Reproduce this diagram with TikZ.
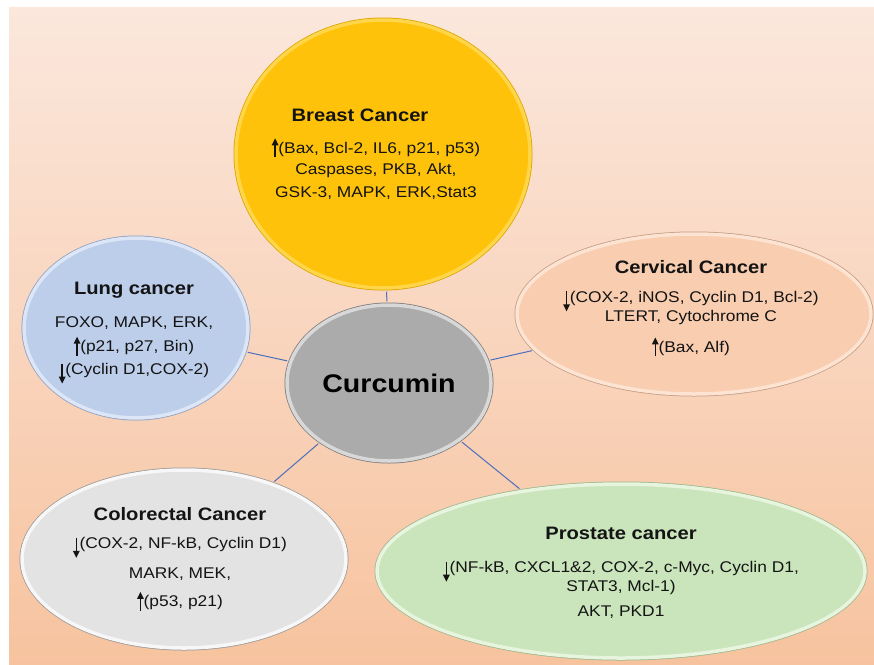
\documentclass[tikz,border=0pt]{standalone}
\usepackage{fontspec}
\setmainfont{Liberation Sans}[FakeStretch=1.12]
\usetikzlibrary{shapes.geometric,arrows.meta}

\definecolor{bgtop}{HTML}{FBE7DC}
\definecolor{bgbot}{HTML}{F7C39F}
\definecolor{linkblue}{HTML}{4A6FC0}
\definecolor{brfill}{HTML}{FFC20A}
\definecolor{brring}{HTML}{FFD54A}
\definecolor{brline}{HTML}{D9A300}
\definecolor{cvfill}{HTML}{F9CDB0}
\definecolor{cvring}{HTML}{FCE3D2}
\definecolor{cvline}{HTML}{C49D85}
\definecolor{lgfill}{HTML}{BDCEEB}
\definecolor{lgring}{HTML}{DDE6F6}
\definecolor{lgline}{HTML}{8A9EC0}
\definecolor{crfill}{HTML}{E3E3E3}
\definecolor{crring}{HTML}{F7F7F7}
\definecolor{crline}{HTML}{989898}
\definecolor{prfill}{HTML}{CAE5BC}
\definecolor{prring}{HTML}{E7F5DF}
\definecolor{prline}{HTML}{9BB78D}
\definecolor{cufill}{HTML}{ABABAB}
\definecolor{curing}{HTML}{D8D8D8}
\definecolor{culine}{HTML}{7A7A7A}

\newcommand{\ttl}{\bfseries\fontsize{18}{21}\selectfont}
\newcommand{\uparr}{\smash{\tikz[baseline=0pt]\draw[-{Triangle[length=7pt,width=6.5pt]},line width=1.4pt] (0pt,-4pt) -- (0pt,15pt);}}
\newcommand{\downarr}{\smash{\tikz[baseline=0pt]\draw[-{Triangle[length=7pt,width=6.5pt]},line width=1.4pt] (0pt,11pt) -- (0pt,-9pt);}}

\begin{document}
\begin{tikzpicture}[
    x=1pt, y=-1pt,
    bubble/.style n args={3}{ellipse, inner sep=0pt, fill=#1, draw=#2,
        line width=3.5pt, preaction={draw=#3, line width=5pt}},
    txt/.style={align=center, inner sep=0pt, text=black!92,
        font=\fontsize{15.5}{21}\selectfont},
    link/.style={draw=linkblue, line width=1pt, shorten <=2pt, shorten >=2pt}
]

% page and backdrop
\useasboundingbox (0,0) rectangle (874,664);
\fill[white] (0,0) rectangle (874,664);
\fill[top color=bgtop, bottom color=bgbot] (9,7) rectangle (874,664);

% bubbles
\node[bubble={brfill}{brring}{brline}, minimum width=294pt, minimum height=268pt] (breast) at (383,154) {};
\node[bubble={cvfill}{cvring}{cvline}, minimum width=354pt, minimum height=160pt] (cerv) at (694,314) {};
\node[bubble={lgfill}{lgring}{lgline}, minimum width=224pt, minimum height=180pt] (lung) at (136,328) {};
\node[bubble={crfill}{crring}{crline}, minimum width=324pt, minimum height=178pt] (colo) at (184,559) {};
\node[bubble={prfill}{prring}{prline}, minimum width=488pt, minimum height=174pt] (pros) at (621,571) {};
\node[bubble={cufill}{curing}{culine}, minimum width=204pt, minimum height=156pt,
      font=\bfseries\fontsize{25.5}{30}\selectfont] (cur) at (389,383) {Curcumin};

% texts
\node[txt] (breast-txt) at ([xshift=-7pt]breast.center)
    {{\ttl Breast Cancer}\hspace*{32pt}\\[11pt]
     \uparr(Bax, Bcl-2, IL6, p21, p53)\\
     Caspases, PKB, Akt,\\[2pt]
     GSK-3, MAPK, ERK,Stat3};
\node[txt] (cerv-txt) at ([xshift=-3pt,yshift=6pt]cerv.center)
    {{\ttl Cervical Cancer}\\[8pt]
     \downarr(COX-2, iNOS, Cyclin D1, Bcl-2)\\[-2pt]
     LTERT, Cytochrome C\\[10pt]
     \uparr(Bax, Alf)};
\node[txt] (lung-txt) at ([xshift=-2pt,yshift=-2pt]lung.center)
    {{\ttl Lung cancer}\\[12pt]
     FOXO, MAPK, ERK,\\[3pt]
     \uparr(p21, p27, Bin)\\[2pt]
     \downarr(Cyclin D1,COX-2)};
\node[txt] (colo-txt) at ([xshift=-4pt]colo.center)
    {{\ttl Colorectal Cancer}\\[7pt]
     \downarr(COX-2, NF-kB, Cyclin D1)\\[9pt]
     MARK, MEK,\\[7pt]
     \uparr(p53, p21)};
\node[txt] (pros-txt) at ([yshift=-2pt]pros.center)
    {{\ttl Prostate cancer}\\[12pt]
     \downarr(NF-kB, CXCL1\&2, COX-2, c-Myc, Cyclin D1,\\[-2pt]
     STAT3, Mcl-1)\\[4pt]
     AKT, PKD1};

% connectors
\path[link] (cur) edge (breast)
            (cur) edge (cerv)
            (cur) edge (lung)
            (cur) edge (colo)
            (cur) edge (pros);
\end{tikzpicture}
\end{document}
